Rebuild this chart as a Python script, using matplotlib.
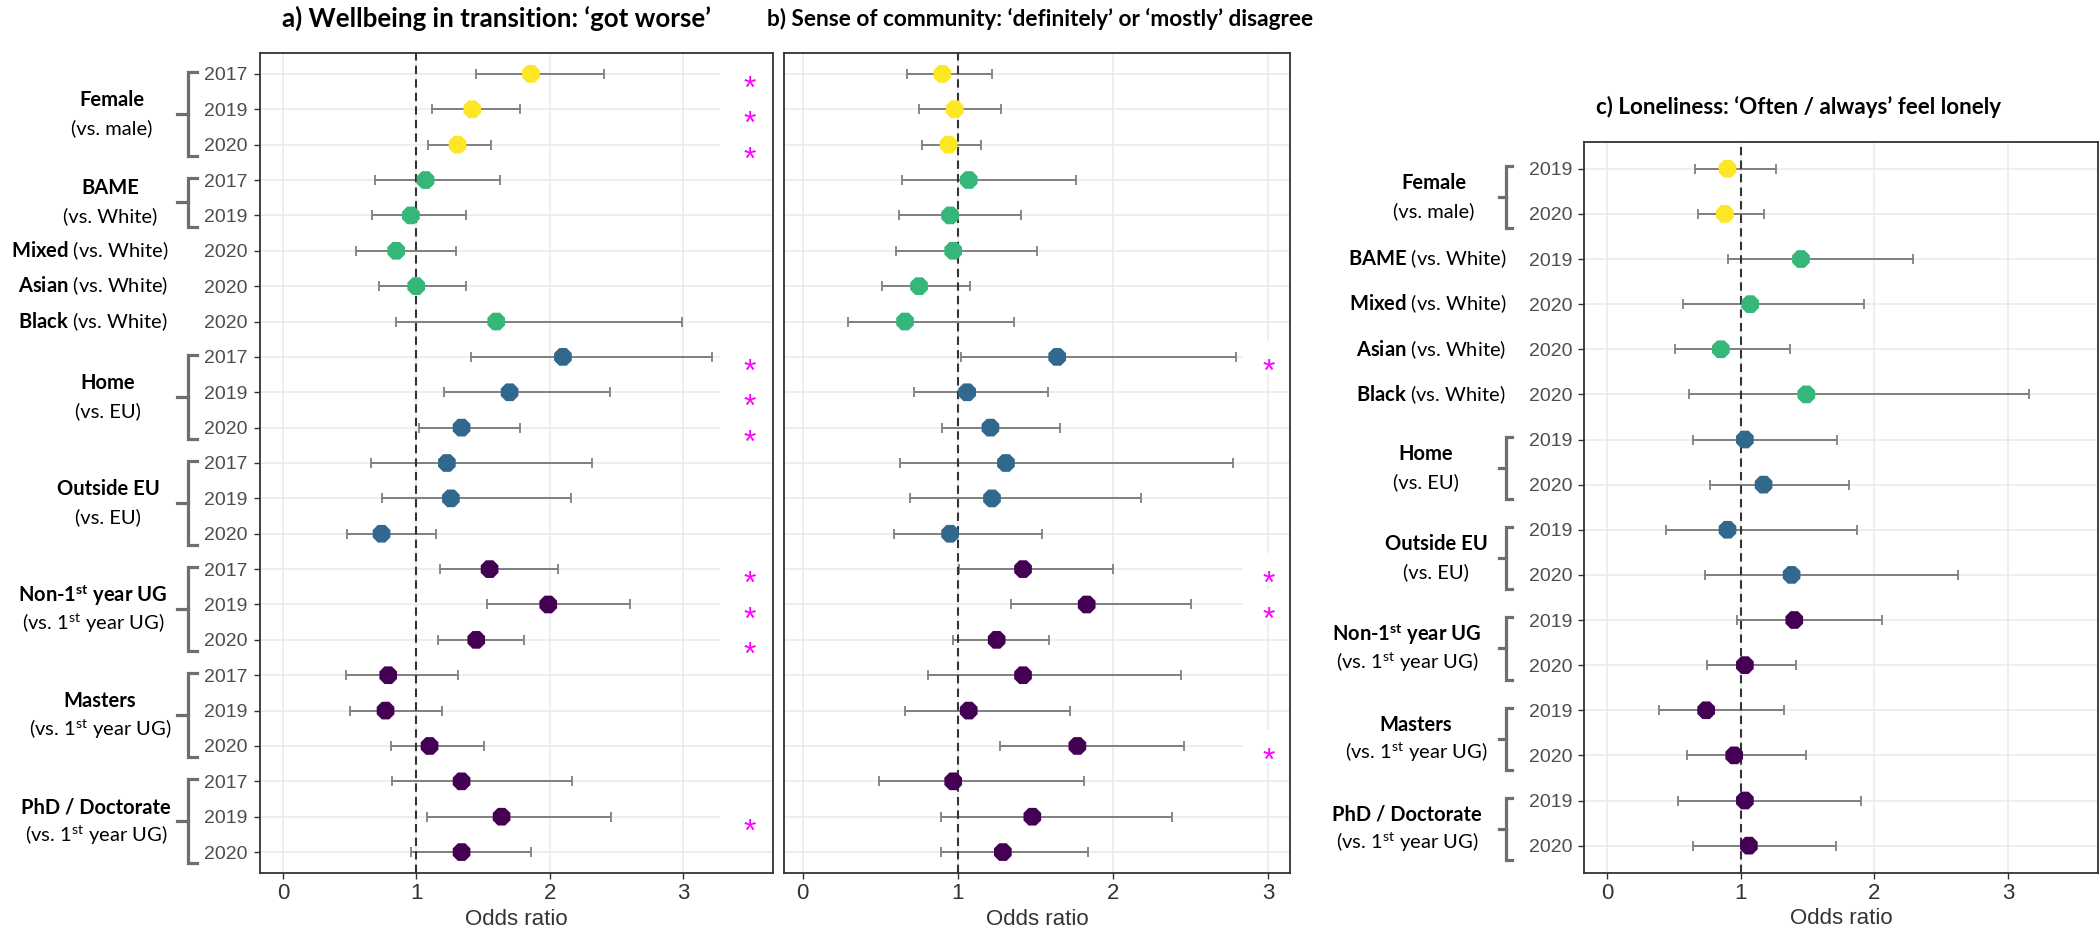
import numpy as np
import matplotlib.pyplot as plt
from matplotlib.patches import Rectangle
from matplotlib.transforms import blended_transform_factory, offset_copy

plt.rcParams['mathtext.fontset'] = 'custom'
plt.rcParams['mathtext.rm'] = 'Lato'
plt.rcParams['mathtext.bf'] = 'Lato:bold'
plt.rcParams['mathtext.it'] = 'Lato:italic'

# ---- data ----
# group of each row (panels a and b share rows)
groups_ab = ["female"] * 3 + ["bame"] * 2 + ["mixed", "asian", "black"] + ["home"] * 3 + \
            ["outside"] * 3 + ["non1st"] * 3 + ["masters"] * 3 + ["phd"] * 3
years_ab = ["2017", "2019", "2020", "2017", "2019", "2020", "2020", "2020",
            "2017", "2019", "2020", "2017", "2019", "2020", "2017", "2019", "2020",
            "2017", "2019", "2020", "2017", "2019", "2020"]

# a) wellbeing in transition
or_a = [1.86, 1.42, 1.31, 1.07, 0.96, 0.85, 1.00, 1.60, 2.10, 1.70, 1.34, 1.23, 1.26, 0.74,
        1.55, 1.99, 1.45, 0.79, 0.77, 1.10, 1.34, 1.64, 1.34]
lo_a = [1.45, 1.12, 1.09, 0.69, 0.67, 0.55, 0.72, 0.85, 1.41, 1.21, 1.02, 0.66, 0.74, 0.48,
        1.18, 1.53, 1.16, 0.47, 0.50, 0.81, 0.82, 1.08, 0.96]
hi_a = [2.41, 1.78, 1.56, 1.63, 1.37, 1.30, 1.37, 2.99, 3.22, 2.45, 1.78, 2.32, 2.16, 1.15,
        2.06, 2.60, 1.81, 1.31, 1.19, 1.51, 2.17, 2.46, 1.86]
sig_a = [1, 1, 1, 0, 0, 0, 0, 0, 1, 1, 1, 0, 0, 0, 1, 1, 1, 0, 0, 0, 0, 1, 0]

# b) sense of community
or_b = [0.90, 0.98, 0.94, 1.07, 0.95, 0.97, 0.75, 0.66, 1.64, 1.06, 1.21, 1.31, 1.22, 0.95,
        1.42, 1.83, 1.25, 1.42, 1.07, 1.77, 0.97, 1.48, 1.29]
lo_b = [0.67, 0.75, 0.77, 0.64, 0.62, 0.60, 0.51, 0.29, 1.02, 0.72, 0.90, 0.63, 0.69, 0.59,
        1.01, 1.34, 0.97, 0.81, 0.66, 1.27, 0.49, 0.89, 0.89]
hi_b = [1.22, 1.28, 1.15, 1.76, 1.41, 1.51, 1.08, 1.36, 2.79, 1.58, 1.66, 2.77, 2.18, 1.54,
        2.00, 2.50, 1.59, 2.44, 1.72, 2.46, 1.81, 2.38, 1.84]
sig_b = [0, 0, 0, 0, 0, 0, 0, 0, 1, 0, 0, 0, 0, 0, 1, 1, 0, 0, 0, 1, 0, 0, 0]

# c) loneliness
groups_c = ["female"] * 2 + ["bame", "mixed", "asian", "black"] + ["home"] * 2 + \
           ["outside"] * 2 + ["non1st"] * 2 + ["masters"] * 2 + ["phd"] * 2
years_c = ["2019", "2020", "2019", "2020", "2020", "2020", "2019", "2020",
           "2019", "2020", "2019", "2020", "2019", "2020", "2019", "2020"]
or_c = [0.90, 0.88, 1.45, 1.07, 0.85, 1.49, 1.03, 1.17, 0.90, 1.38, 1.40, 1.03, 0.74, 0.95, 1.03, 1.06]
lo_c = [0.66, 0.68, 0.90, 0.57, 0.51, 0.61, 0.64, 0.77, 0.44, 0.73, 0.97, 0.75, 0.39, 0.60, 0.53, 0.64]
hi_c = [1.26, 1.17, 2.29, 1.92, 1.37, 3.16, 1.72, 1.81, 1.87, 2.63, 2.06, 1.41, 1.32, 1.49, 1.90, 1.71]
sig_c = [0] * 16

# group labels: bold part, comparison part
group_bold = {"female": "Female", "bame": "BAME", "mixed": "Mixed", "asian": "Asian",
              "black": "Black", "home": "Home", "outside": "Outside EU",
              "non1st": "Non-1$^{\\mathbf{st}}$ year UG", "masters": "Masters",
              "phd": "PhD / Doctorate"}
group_ref = {"female": "(vs. male)", "bame": "(vs. White)", "mixed": "(vs. White)",
             "asian": "(vs. White)", "black": "(vs. White)", "home": "(vs. EU)",
             "outside": "(vs. EU)", "non1st": "(vs. 1$^{\\mathrm{st}}$ year UG)",
             "masters": "(vs. 1$^{\\mathrm{st}}$ year UG)", "phd": "(vs. 1$^{\\mathrm{st}}$ year UG)"}
group_colour = {"female": "#FDE725", "bame": "#35B779", "mixed": "#35B779", "asian": "#35B779",
                "black": "#35B779", "home": "#31688E", "outside": "#31688E",
                "non1st": "#440154", "masters": "#440154", "phd": "#440154"}

titles = ["a) Wellbeing in transition: \u2018got worse\u2019",
          "b) Sense of community: \u2018definitely\u2019 or \u2018mostly\u2019 disagree",
          "c) Loneliness: \u2018Often / always\u2019 feel lonely"]

# ---- layout (pixels of the 2100 x 939 output) ----
W, H = 2100, 939
fig = plt.figure(figsize=(W / 100, H / 100), dpi=100)


def px_axes(l, r, t, b):
    return fig.add_axes([l / W, 1 - b / H, (r - l) / W, (b - t) / H])


ax_a = px_axes(259.5, 773, 52.7, 873.3)
ax_b = px_axes(784, 1290, 52.7, 873.3)
ax_c = px_axes(1584, 2098, 141.7, 872.7)

# label centres (px) for two-line labels, right edge for one-line labels
label_x_a = {"female": 112, "bame": 110, "home": 108, "outside": 108, "non1st": 93,
             "masters": 100, "phd": 96, "single": 168}
label_x_c = {"female": 1434, "home": 1426, "outside": 1436, "non1st": 1407,
             "masters": 1416, "phd": 1407, "single": 1506}
bracket_a = (177, 187.5, 197)
bracket_c = (1499, 1505.5, 1512)

lato = "Lato"
arial = ["Liberation Sans", "DejaVu Sans"]


def draw_panel(ax, groups, years, ors, los, his, sigs, xlim, star_x, star_box, show_y):
    n = len(years)
    rows = np.arange(n)
    ors = np.array(ors); los = np.array(los); his = np.array(his)
    cols = [group_colour[g] for g in groups]
    ax.set_xlim(*xlim)
    ax.set_ylim(n - 1 + 0.6, -0.6)
    ax.set_axisbelow(True)
    ax.grid(True, color="#EBEBEB", lw=1.2)
    ax.set_xticks([0, 1, 2, 3])
    ax.set_xticklabels(["0", "1", "2", "3"], fontsize=16, color="#333333", family=arial)
    ax.set_yticks(rows)
    if show_y:
        ax.set_yticklabels(years, fontsize=14, color="#4D4D4D", family=arial)
        ax.tick_params(axis="y", length=4.3, width=1, color="#333333", pad=4.3)
    else:
        ax.set_yticklabels([])
        ax.tick_params(axis="y", length=0)
    ax.tick_params(axis="x", length=4.3, width=1, color="#333333", pad=3)
    for s in ax.spines.values():
        s.set_color("#333333")
        s.set_linewidth(1.3)
    ax.set_xlabel("Odds ratio", fontsize=16, color="#333333", family=arial, labelpad=3)

    ax.errorbar(ors, rows, xerr=[ors - los, his - ors], fmt="none", ecolor="#808080",
                elinewidth=1.4, capsize=3.5, capthick=1.3, zorder=2)
    ax.axvline(1, color="#333333", ls=(0, (4, 2.5)), lw=1.5, zorder=2.5)
    ax.scatter(ors, rows, s=190, marker="8", c=cols, edgecolors="none", zorder=3)

    for r, s in zip(rows, sigs):
        if s:
            ax.add_patch(Rectangle((star_box[0], r - 0.45), star_box[1] - star_box[0], 0.9,
                                   fc="white", ec="none", zorder=1.5, clip_on=True))
            ax.text(star_x, r + 0.68, "*", color="#FF00FF", fontsize=23, family=arial,
                    ha="center", va="baseline", zorder=4)
    return rows


def draw_labels(ax, groups, label_x, bracket):
    trans = blended_transform_factory(fig.transFigure, ax.transData)
    up = offset_copy(trans, fig=fig, x=0, y=14, units="dots")
    down = offset_copy(trans, fig=fig, x=0, y=-14, units="dots")
    order = []
    for g in groups:
        if g not in order:
            order.append(g)
    for g in order:
        idx = [i for i, gg in enumerate(groups) if gg == g]
        if len(idx) == 1:
            r = idx[0]
            txt = "$\\mathbf{" + group_bold[g] + "}$ " + group_ref[g]
            ax.text(label_x["single"] / W, r, txt, transform=trans, ha="right", va="center",
                    fontsize=14.5, family=lato, color="black", clip_on=False)
            continue
        top = idx[0] - 0.06
        bot = idx[-1] + 0.32
        mid = (top + bot) / 2
        xn, xv, xr = [b / W for b in bracket]
        ax.plot([xr, xv, xv, xr], [top, top, bot, bot], transform=trans, color="#6E6E6E",
                lw=2.3, clip_on=False, solid_joinstyle="miter")
        ax.plot([xn, xv], [mid, mid], transform=trans, color="#6E6E6E", lw=2.3, clip_on=False)
        cx = label_x[g] / W
        ax.text(cx, mid, group_bold[g], transform=up, ha="center", va="center",
                fontsize=14.5, family=lato, fontweight="bold", color="black", clip_on=False)
        ax.text(cx, mid, group_ref[g], transform=down, ha="center", va="center",
                fontsize=14.5, family=lato, color="black", clip_on=False)


draw_panel(ax_a, groups_ab, years_ab, or_a, lo_a, hi_a, sig_a, (-0.175, 3.675), 3.5, (3.28, 3.8), True)
draw_panel(ax_b, groups_ab, years_ab, or_b, lo_b, hi_b, sig_b, (-0.12, 3.14), 3.0, (2.84, 3.3), False)
draw_panel(ax_c, groups_c, years_c, or_c, lo_c, hi_c, sig_c, (-0.175, 3.675), 3.5, (3.28, 3.8), True)

draw_labels(ax_a, groups_ab, label_x_a, bracket_a)
draw_labels(ax_c, groups_c, label_x_c, bracket_c)

# titles: centre (px), vertical centre (px), width (px)
title_pos = [(497, 18, 429), (1040, 19, 550), (1798, 107, 407)]
renderer = fig.canvas.get_renderer()
for s, (cx, cy, tw) in zip(titles, title_pos):
    t = fig.text(cx / W, 1 - cy / H, s, ha="center", va="center", fontsize=15,
                 fontweight="bold", family=lato)
    w = t.get_window_extent(renderer=renderer).width
    t.set_fontsize(15 * tw / w)

fig.savefig("out.png", dpi=100)
